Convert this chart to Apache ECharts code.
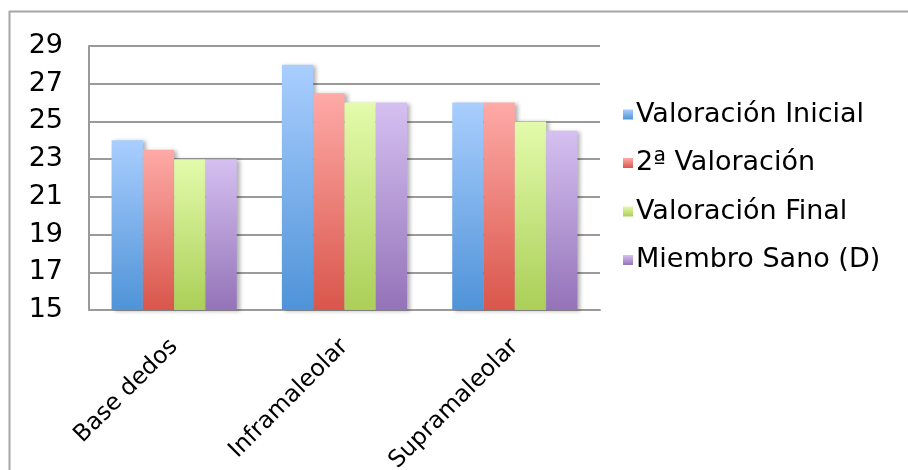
<!DOCTYPE html>
<html>
<head>
<meta charset="utf-8">
<script src="https://cdn.jsdelivr.net/npm/echarts@6/dist/echarts.min.js"></script>
<style>
  html, body { margin: 0; padding: 0; background: #fff; }
  #chart { width: 908px; height: 470px; }
</style>
</head>
<body>
<div id="chart"></div>
<script>
var categories = ['Base dedos', 'Inframaleolar', 'Supramaleolar'];
var seriesNames = ['Valoración Inicial', '2ª Valoración', 'Valoración Final', 'Miembro Sano (D)'];
var valInicial = [24, 28, 26];
var val2 = [23.5, 26.5, 26];
var valFinal = [23, 26, 25];
var sano = [23, 26, 24.5];
var yTicks = [15, 17, 19, 21, 23, 25, 27, 29];

// top / bottom gradient colours per series
var grads = [
  ['#a9cefe', '#4f93d8'],
  ['#feaaa7', '#d9564b'],
  ['#e3fbab', '#abcf58'],
  ['#d5c0f1', '#9473b8']
];

function grad(c) {
  return new echarts.graphic.LinearGradient(0, 0, 0, 1, [
    { offset: 0, color: c[0] },
    { offset: 1, color: c[1] }
  ]);
}

var allData = [valInicial, val2, valFinal, sano];
var series = allData.map(function (d, i) {
  return {
    name: seriesNames[i],
    type: 'bar',
    data: d,
    barGap: '0%',
    barCategoryGap: '26.5%',
    itemStyle: {
      color: grad(grads[i]),
      shadowColor: 'rgba(0,0,0,0.3)',
      shadowBlur: 4,
      shadowOffsetX: 3,
      shadowOffsetY: 1
    }
  };
});

var chart = echarts.init(document.getElementById('chart'));
chart.setOption({
  animation: false,
  textStyle: { fontFamily: 'DejaVu Sans' },
  grid: { left: 89, top: 46, right: 308, bottom: 160, outerBoundsMode: 'none' },
  legend: {
    orient: 'vertical',
    left: 618,
    top: 96,
    icon: 'rect',
    itemWidth: 10,
    itemHeight: 10,
    itemGap: 21.5,
    itemStyle: { shadowBlur: 0, shadowOffsetX: 0, shadowOffsetY: 0 },
    textStyle: { fontSize: 27, color: '#000', fontFamily: 'DejaVu Sans', padding: [0, 0, 0, -2] },
    data: seriesNames
  },
  xAxis: {
    type: 'category',
    data: categories,
    axisLine: { lineStyle: { color: '#9a9a9a', width: 2 } },
    axisTick: { show: false },
    axisLabel: { rotate: 45, fontSize: 23.5, color: '#000', margin: 33, interval: 0 }
  },
  yAxis: {
    type: 'value',
    min: yTicks[0],
    max: yTicks[yTicks.length - 1],
    interval: 2,
    axisLine: { show: true, lineStyle: { color: '#9a9a9a', width: 2 } },
    axisTick: { show: false },
    axisLabel: { fontSize: 27, color: '#000', margin: 26 },
    splitLine: { lineStyle: { color: '#9a9a9a', width: 2 } }
  },
  graphic: [
    { type: 'line', shape: { x1: 9, y1: 11.5, x2: 908, y2: 11.5 }, style: { stroke: '#a6a6a6', lineWidth: 2 } },
    { type: 'line', shape: { x1: 9.5, y1: 11, x2: 9.5, y2: 470 }, style: { stroke: '#a6a6a6', lineWidth: 2 } }
  ],
  series: series
});
</script>
</body>
</html>
